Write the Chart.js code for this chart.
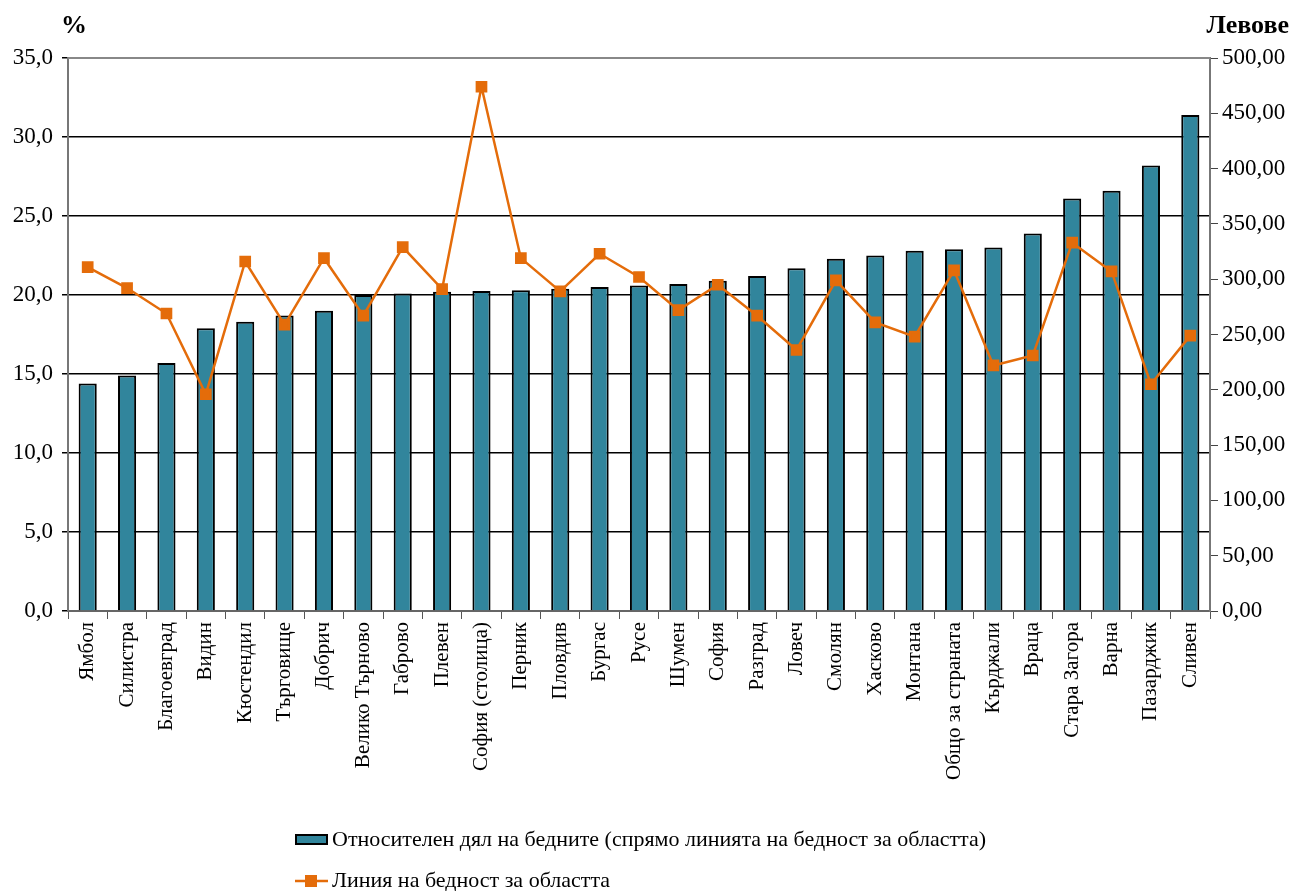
<!DOCTYPE html>
<html>
<head>
<meta charset="utf-8">
<script src="https://cdn.jsdelivr.net/npm/chart.js@4"></script>
<style>
  html,body{margin:0;padding:0;background:#fff;}
  #wrap{position:relative;width:1296px;height:891px;}
</style>
</head>
<body>
<div id="wrap"><canvas id="c" width="1296" height="891"></canvas></div>
<script>
const categories = ["Ямбол","Силистра","Благоевград","Видин","Кюстендил","Търговище","Добрич","Велико Търново","Габрово","Плевен","София (столица)","Перник","Пловдив","Бургас","Русе","Шумен","София","Разград","Ловеч","Смолян","Хасково","Монтана","Общо за страната","Кърджали","Враца","Стара Загора","Варна","Пазарджик","Сливен"];
const povertyShare = [14.4,14.9,15.7,17.9,18.3,18.7,19.0,20.0,20.1,20.2,20.25,20.3,20.4,20.5,20.6,20.7,20.9,21.2,21.7,22.3,22.5,22.8,22.9,23.0,23.9,26.1,26.6,28.2,31.4];
const povertyLine = [311,292,269,196,316,259,319,267,329,291,474,319,289,323,302,272,295,267,236,299,261,248,308,222,231,333,307,205,249];
const seriesNames = ["Относителен дял на бедните (спрямо линията на бедност за областта)","Линия на бедност за областта"];
const leftTitle = "%";
const rightTitle = "Левове";

const FONT = "'Liberation Serif','Times New Roman',serif";

const overlay = {
  id:'overlay',
  afterDraw(chart){
    const ctx = chart.ctx;
    const bar = chart.data.datasets.find(d => d.type === 'bar');
    const line = chart.data.datasets.find(d => d.type === 'line');
    ctx.save();
    ctx.fillStyle = '#000';
    ctx.font = 'bold 26px ' + FONT;
    ctx.textBaseline = 'middle';
    ctx.textAlign = 'left';
    ctx.fillText(leftTitle, 61, 26);
    ctx.textAlign = 'right';
    ctx.fillText(rightTitle, 1289, 26);
    // legend
    ctx.font = '22px ' + FONT;
    ctx.textAlign = 'left';
    ctx.fillStyle = bar.backgroundColor;
    ctx.fillRect(296, 835, 31, 9);
    ctx.strokeStyle = '#000'; ctx.lineWidth = 2;
    ctx.strokeRect(296, 835, 31, 9);
    ctx.fillStyle = '#000';
    ctx.fillText(seriesNames[0], 332, 840);
    ctx.strokeStyle = line.borderColor; ctx.lineWidth = 2.5;
    ctx.beginPath(); ctx.moveTo(295, 881); ctx.lineTo(328, 881); ctx.stroke();
    ctx.fillStyle = line.pointBackgroundColor;
    ctx.fillRect(305, 875, 12, 12);
    ctx.fillStyle = '#000';
    ctx.fillText(seriesNames[1], 332, 881);
    ctx.restore();
  }
};

const fmt = (v, d) => Number(v).toFixed(d).replace('.', ',');

new Chart(document.getElementById('c'), {
  data: {
    labels: categories,
    datasets: [
      {
        type:'line', label: seriesNames[1], data: povertyLine, yAxisID:'y1',
        borderColor:'#E46C0A', backgroundColor:'#E46C0A', pointBackgroundColor:'#E46C0A',
        pointBorderColor:'#E46C0A', borderWidth:2.5, pointStyle:'rect', pointRadius:6.5,
        tension:0, order:0
      },
      {
        type:'bar', label: seriesNames[0], data: povertyShare, yAxisID:'y',
        backgroundColor:'#31859C', borderColor:'#000', borderWidth:2,
        categoryPercentage:1, barPercentage:0.46, order:1
      }
    ]
  },
  options: {
    responsive:false, animation:false, devicePixelRatio:1,
    layout:{padding:{top:58, bottom:0, left:0, right:0}},
    plugins:{legend:{display:false}, tooltip:{enabled:false}},
    scales:{
      x:{
        offset:true,
        grid:{offset:true, drawOnChartArea:false, tickLength:8, color:'#555'},
        border:{color:'#666', width:2},
        ticks:{minRotation:90, maxRotation:90, autoSkip:false, color:'#000', font:{family:FONT, size:21}, padding:3},
        afterFit(s){ s.height = 280; }
      },
      y:{
        position:'left', min:0, max:35,
        ticks:{stepSize:5, color:'#000', font:{family:FONT, size:23}, callback:v=>fmt(v,1), padding:9},
        grid:{color:'#000', lineWidth:1.5, tickLength:6, drawTicks:true},
        border:{color:'#777', width:2},
        afterFit(s){ s.width = 68; }
      },
      y1:{
        position:'right', min:0, max:500,
        ticks:{stepSize:50, color:'#000', font:{family:FONT, size:23}, callback:v=>fmt(v,2), padding:4},
        grid:{drawOnChartArea:false, tickLength:8, color:'#444'},
        border:{color:'#777', width:2},
        afterFit(s){ s.width = 86; }
      }
    }
  },
  plugins:[overlay, {
    id:'topborder',
    beforeDatasetsDraw(chart){
      const a = chart.chartArea, ctx = chart.ctx;
      ctx.save(); ctx.strokeStyle = '#888'; ctx.lineWidth = 2;
      ctx.beginPath(); ctx.moveTo(a.left, a.top); ctx.lineTo(a.right, a.top); ctx.stroke();
      ctx.restore();
    }
  }]
});
</script>
</body>
</html>
